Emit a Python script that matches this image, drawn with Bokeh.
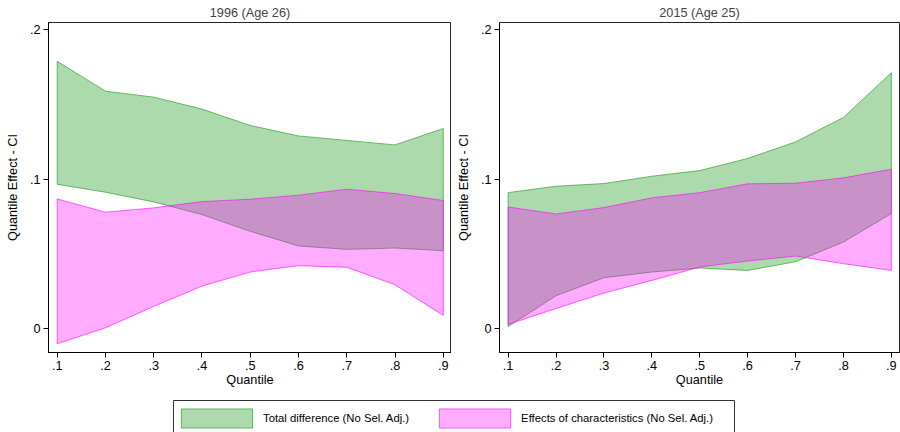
import numpy as np
from bokeh.plotting import figure
from bokeh.layouts import column, row
from bokeh.models import BoxAnnotation, FixedTicker, Legend, LegendItem, Range1d
from bokeh.embed import file_html
from bokeh.resources import INLINE

# Quantiles at which the decomposition is evaluated
quantiles = [0.1, 0.2, 0.3, 0.4, 0.5, 0.6, 0.7, 0.8, 0.9]
x_tick_labels = [".1", ".2", ".3", ".4", ".5", ".6", ".7", ".8", ".9"]
y_ticks = [0.0, 0.1, 0.2]
y_tick_labels = ["0", ".1", ".2"]

# 1996 (Age 26): confidence bands
total_hi_1996 = [0.179, 0.159, 0.155, 0.147, 0.136, 0.129, 0.126, 0.123, 0.134]
total_lo_1996 = [0.0966, 0.0913, 0.0848, 0.0763, 0.0651, 0.0553, 0.0530, 0.0539, 0.0521]
char_hi_1996 = [0.0868, 0.0779, 0.0808, 0.0850, 0.0866, 0.0893, 0.0933, 0.0904, 0.0857]
char_lo_1996 = [-0.0103, 0.0004, 0.0148, 0.0284, 0.0378, 0.0421, 0.0410, 0.0293, 0.0087]

# 2015 (Age 25): confidence bands
total_hi_2015 = [0.0910, 0.0953, 0.0971, 0.1020, 0.1058, 0.1139, 0.1250, 0.1414, 0.1714]
total_lo_2015 = [0.0013, 0.0219, 0.0340, 0.0378, 0.0405, 0.0389, 0.0447, 0.0579, 0.0770]
char_hi_2015 = [0.0814, 0.0767, 0.0810, 0.0875, 0.0910, 0.0969, 0.0973, 0.1009, 0.1067]
char_lo_2015 = [0.0027, 0.0134, 0.0237, 0.0322, 0.0412, 0.0452, 0.0485, 0.0434, 0.0389]

legend_labels = ["Total difference (No Sel. Adj.)",
                 "Effects of characteristics (No Sel. Adj.)"]

FONT = "Liberation Sans"
GREEN = "#008c00"
MAGENTA = "#ff00ff"
GREEN_STYLE = dict(fill_color=GREEN, fill_alpha=0.32, line_color=GREEN, line_alpha=0.55, line_width=1)
MAGENTA_STYLE = dict(fill_color=MAGENTA, fill_alpha=0.33, line_color=MAGENTA, line_alpha=0.6, line_width=1)


def band(p, hi, lo, style):
    # closed polygon: upper edge left->right, lower edge right->left
    xs = list(quantiles) + list(reversed(quantiles))
    ys = list(hi) + list(reversed(lo))
    return p.patch(xs, ys, **style)


def panel(title, width, total_hi, total_lo, char_hi, char_lo):
    p = figure(width=width, height=396,
               x_range=Range1d(0.082, 0.917), y_range=Range1d(-0.0161, 0.205),
               output_backend="svg", toolbar_location=None,
               min_border_left=48, min_border_right=0,
               min_border_top=22, min_border_bottom=44,
               background_fill_color="white", border_fill_color="white")
    p.title.text = title
    p.title.align = "center"
    p.title.text_font = FONT
    p.title.text_font_size = "12.7px"
    p.title.text_font_style = "normal"
    p.title.standoff = 5

    p.xgrid.visible = False
    p.ygrid.visible = False
    p.outline_line_color = "black"
    p.outline_line_width = 1
    p.outline_line_alpha = 0.85

    p.xaxis.ticker = FixedTicker(ticks=quantiles)
    p.xaxis.major_label_overrides = {q: lab for q, lab in zip(quantiles, x_tick_labels)}
    p.yaxis.ticker = FixedTicker(ticks=y_ticks)
    p.yaxis.major_label_overrides = {t: lab for t, lab in zip(y_ticks, y_tick_labels)}
    p.yaxis.major_label_orientation = "horizontal"
    p.xaxis.axis_label = "Quantile"
    p.yaxis.axis_label = "Quantile Effect - CI"
    for ax in (p.xaxis[0], p.yaxis[0]):
        ax.axis_line_color = "black"
        ax.major_tick_line_color = "black"
        ax.major_tick_in = 0
        ax.major_tick_out = 5
        ax.minor_tick_line_color = None
        ax.major_label_standoff = 3
        ax.major_label_text_font = FONT
        ax.major_label_text_font_size = "12.7px"
        ax.major_label_text_color = "black"
        ax.axis_label_text_font = FONT
        ax.axis_label_text_font_size = "12.7px"
        ax.axis_label_text_font_style = "normal"
        ax.axis_label_text_color = "black"
    p.xaxis.axis_label_standoff = 0
    p.yaxis.axis_label_standoff = 7

    band(p, total_hi, total_lo, GREEN_STYLE)
    band(p, char_hi, char_lo, MAGENTA_STYLE)
    return p


left = panel("1996 (Age 26)", 451, total_hi_1996, total_lo_1996, char_hi_1996, char_lo_1996)
right = panel("2015 (Age 25)", 449, total_hi_2015, total_lo_2015, char_hi_2015, char_lo_2015)
right.min_border_right = 1

# Shared legend strip beneath both panels. The strip's ranges equal its
# pixel size, so the frame box can be laid out in pixels. Its glyphs are
# placeholders (a single missing point) that only draw the legend swatches.
LEG_W, LEG_H = 900, 36
leg_fig = figure(width=LEG_W, height=LEG_H, output_backend="svg", toolbar_location=None,
                 x_range=Range1d(0, LEG_W), y_range=Range1d(0, LEG_H),
                 x_axis_type=None, y_axis_type=None,
                 min_border=0, outline_line_color=None,
                 background_fill_color="white", border_fill_color="white")
leg_fig.xgrid.visible = False
leg_fig.ygrid.visible = False
r_total = leg_fig.patch(x=[np.nan], y=[np.nan], **GREEN_STYLE)
r_char = leg_fig.patch(x=[np.nan], y=[np.nan], **MAGENTA_STYLE)

# frame around the legend keys (runs off the bottom edge)
leg_fig.add_layout(BoxAnnotation(left=173, right=734, top=LEG_H - 4, bottom=-10,
                                 fill_color=None, fill_alpha=0,
                                 line_color="black", line_alpha=0.8, line_width=1))

legend = Legend(items=[LegendItem(label=legend_labels[0], renderers=[r_total]),
                       LegendItem(label=legend_labels[1], renderers=[r_char])],
                orientation="horizontal", location=(172, 2),
                padding=6, spacing=21, glyph_width=89, glyph_height=24,
                label_standoff=2, label_height=20,
                label_text_font=FONT, label_text_font_size="11.3px",
                label_text_color="black",
                border_line_color=None, background_fill_alpha=0)
leg_fig.add_layout(legend, "center")

layout = column(row(left, right), leg_fig)

open("out.html", "w").write(file_html(layout, INLINE))
